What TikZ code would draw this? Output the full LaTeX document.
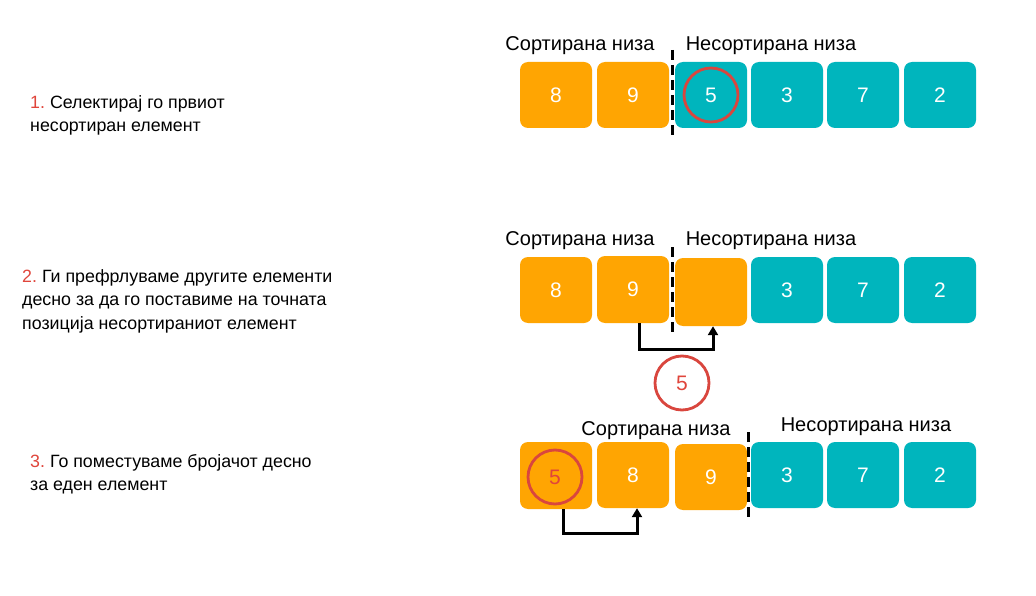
\documentclass[tikz,border=0pt]{standalone}
\usepackage{fontspec}
\setmainfont{Liberation Sans}
\usetikzlibrary{arrows.meta}
\definecolor{org}{HTML}{FFA502}
\definecolor{tea}{HTML}{00B5BD}
\definecolor{circ}{HTML}{D9463E}
\definecolor{numred}{HTML}{E0453B}
\newcommand{\stepno}[1]{\textcolor{numred}{#1}\kern5pt}
\begin{document}
\begin{tikzpicture}[x=1pt,y=-1pt,
  cell/.style={minimum width=72pt,minimum height=66pt,rounded corners=8pt,inner sep=0pt,text=white,font=\fontsize{21}{21}\selectfont},
  ocell/.style={cell,fill=org},
  tcell/.style={cell,fill=tea},
  ring/.style={circle,draw=circ,line width=2.8pt,minimum size=54pt,inner sep=0pt},
  hdr/.style={font=\fontsize{20}{20}\selectfont,inner sep=0pt},
  divider/.style={line width=3pt,dash pattern=on 10pt off 5pt},
  mover/.style={line width=3pt,-{Triangle[length=9pt,width=10pt]}},
  step txt/.style={anchor=north west,align=left,inner sep=0pt,font=\fontsize{17.8}{23.5}\selectfont}]
\useasboundingbox (0,0) rectangle (1036,596);
\fill[white] (0,0) rectangle (1036,596);

% ---------- Row 1 ----------
\node[hdr] (h1a) at (580,46) {Сортирана низа};
\node[hdr] (h1b) at (771,46) {Несортирана низа};
\node[ocell] (a1) at (556,95) {8};
\node[ocell] (a2) at (633,95) {9};
\node[tcell] (a3) at (711,95) {5};
\node[tcell] (a4) at (787,95) {3};
\node[tcell] (a5) at (863,95) {7};
\node[tcell] (a6) at (940,95) {2};
\node[ring] (r1) at (711,95) {};
\coordinate (d1t) at (672,50);
\coordinate (d1b) at (672,137);
\draw[divider] (d1t) -- (d1b);
\node[step txt] (t1) at (30,95) {\stepno{1.}Селектирај го првиот\\несортиран елемент};

% ---------- Row 2 ----------
\node[hdr] (h2a) at (580,241) {Сортирана низа};
\node[hdr] (h2b) at (771,241) {Несортирана низа};
\node[ocell] (b1) at (556,290) {8};
\node[ocell,minimum height=67pt] (b2) at (633,289.5) {9};
\node[ocell,minimum height=68pt] (b3) at (711,292) {};
\node[tcell] (b4) at (787,290) {3};
\node[tcell] (b5) at (863,290) {7};
\node[tcell] (b6) at (940,290) {2};
\coordinate (d2t) at (672,247);
\coordinate (d2b) at (672,334);
\draw[divider] (d2t) -- (d2b);
\coordinate (m2) at (639,349);
\draw[mover] (b2.south -| m2) -- (m2) -- (m2 -| 713,0) -- (b3.south -| 713,0);
\node[ring,text=numred,font=\fontsize{21}{21}\selectfont] (r2) at (682,383) {5};
\node[step txt] (t2) at (22,269) {\stepno{2.}Ги префрлуваме другите елементи\\десно за да го поставиме на точната\\позиција несортираниот елемент};

% ---------- Row 3 ----------
\node[hdr] (h3a) at (656,431) {Сортирана низа};
\node[hdr] (h3b) at (866,427) {Несортирана низа};
\node[ocell,minimum height=67pt] (c1) at (556,475.5) {};
\node[ocell] (c2) at (633,475) {8};
\node[ocell] (c3) at (711,477) {9};
\node[tcell] (c4) at (787,475) {3};
\node[tcell] (c5) at (863,475) {7};
\node[tcell] (c6) at (940,475) {2};
\node[ring,text=numred,font=\fontsize{21}{21}\selectfont] (r3) at (555,477) {5};
\coordinate (d3t) at (748,432);
\coordinate (d3b) at (748,521);
\draw[divider] (d3t) -- (d3b);
\coordinate (m3) at (563,533);
\draw[mover] (c1.south -| m3) -- (m3) -- (m3 -| 637,0) -- (c2.south -| 637,0);
\node[step txt] (t3) at (30,454) {\stepno{3.}Го поместуваме бројачот десно\\за еден елемент};
\end{tikzpicture}
\end{document}
